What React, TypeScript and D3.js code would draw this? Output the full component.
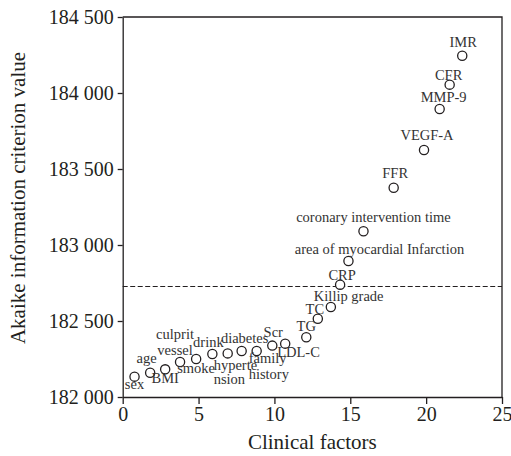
import { useEffect, useRef } from "react";
import * as d3 from "d3";

// clinical factors, in the order they enter the model
const factors = [
    "sex", "age", "BMI", "culprit vessel", "smoke", "drink", "hypertension", "diabetes",
    "family history", "Scr", "LDL-C", "TG", "TC", "Killip grade", "CRP",
    "area of myocardial Infarction", "coronary intervention time", "FFR", "VEGF-A",
    "MMP-9", "CFR", "IMR",
];
const xValues = [
    0.78, 1.81, 2.8, 3.78, 4.84, 5.91, 6.92, 7.84, 8.83, 9.86, 10.71, 12.1, 12.86,
    13.72, 14.33, 14.88, 15.87, 17.86, 19.86, 20.89, 21.55, 22.38,
];
const aicValues = [
    182134, 182160, 182182, 182230, 182250, 182283, 182287, 182303, 182303, 182338,
    182351, 182393, 182515, 182592, 182739, 182895, 183090, 183377, 183625, 183895,
    184055, 184245,
];
const xTicks = [0, 5, 10, 15, 20, 25];
const yTicks = [182000, 182500, 183000, 183500, 184000, 184500];
const threshold = 182727;

// label placement: text lines, offset from the point, anchor
const labelLayout: Record<string, { lines: string[]; dx: number; dy: number[]; anchor: string }> = {
    "sex": { lines: ["sex"], dx: 0, dy: [12.5], anchor: "middle" },
    "age": { lines: ["age"], dx: -3.5, dy: [-10], anchor: "middle" },
    "BMI": { lines: ["BMI"], dx: 0, dy: [14], anchor: "middle" },
    "culprit vessel": { lines: ["culprit", "vessel"], dx: -5, dy: [-23, -7], anchor: "middle" },
    "smoke": { lines: ["smoke"], dx: 0, dy: [14], anchor: "middle" },
    "drink": { lines: ["drink"], dx: -4, dy: [-7], anchor: "middle" },
    "hypertension": { lines: ["hyperte", "nsion"], dx: -14, dy: [17, 31], anchor: "start" },
    "diabetes": { lines: ["diabetes"], dx: 3, dy: [-8], anchor: "middle" },
    "family history": { lines: ["family", "history"], dx: -8, dy: [12, 28], anchor: "start" },
    "Scr": { lines: ["Scr"], dx: 1, dy: [-9], anchor: "middle" },
    "LDL-C": { lines: ["LDL-C"], dx: -8, dy: [13.6], anchor: "start" },
    "TG": { lines: ["TG"], dx: 0, dy: [-6], anchor: "middle" },
    "TC": { lines: ["TC"], dx: -3, dy: [-5], anchor: "middle" },
    "Killip grade": { lines: ["Killip grade"], dx: -17, dy: [-6], anchor: "start" },
    "CRP": { lines: ["CRP"], dx: 2, dy: [-5], anchor: "middle" },
    "area of myocardial Infarction": { lines: ["area of myocardial Infarction"], dx: 31, dy: [-7], anchor: "middle" },
    "coronary intervention time": { lines: ["coronary intervention time"], dx: 10, dy: [-9.6], anchor: "middle" },
    "FFR": { lines: ["FFR"], dx: 1.5, dy: [-9.4], anchor: "middle" },
    "VEGF-A": { lines: ["VEGF-A"], dx: 3, dy: [-10], anchor: "middle" },
    "MMP-9": { lines: ["MMP-9"], dx: 4, dy: [-7], anchor: "middle" },
    "CFR": { lines: ["CFR"], dx: -1, dy: [-5], anchor: "middle" },
    "IMR": { lines: ["IMR"], dx: 1, dy: [-9], anchor: "middle" },
};

const W = 511;
const H = 456;
const FONT = "Liberation Serif, DejaVu Serif, serif";
const INK = "#231f20";

export default function App() {
    const svgRef = useRef<SVGSVGElement>(null);

    useEffect(() => {
        if (!svgRef.current) return;
        const svg = d3.select(svgRef.current);
        svg.selectAll("*").remove();

        const left = 122.7, right = 502, top = 17, bottom = 397;
        const x = d3.scaleLinear().domain([0, 25]).range([left, right]);
        const y = d3.scaleLinear().domain([182000, 184500]).range([bottom, top]);

        const fmt = d3.formatLocale({ decimal: ".", thousands: " ", grouping: [3], currency: ["", ""] }).format(",");

        // frame top + right
        svg.append("path")
            .attr("d", `M${left},${top}H${right}V${bottom}`)
            .attr("fill", "none")
            .attr("stroke", INK)
            .attr("stroke-width", 1.3);

        const xAxis = svg.append("g")
            .attr("transform", `translate(0,${bottom})`)
            .call(d3.axisBottom(x).tickValues(xTicks).tickSize(7).tickSizeOuter(0).tickPadding(3));
        const yAxis = svg.append("g")
            .attr("transform", `translate(${left},0)`)
            .call(d3.axisLeft(y).tickValues(yTicks).tickSize(5).tickSizeOuter(0).tickFormat((d) => fmt(d as number)).tickPadding(4));

        [xAxis, yAxis].forEach((g) => {
            g.attr("font-family", FONT).attr("font-size", 20);
            g.select(".domain").attr("stroke", INK).attr("stroke-width", 1.3);
            g.selectAll(".tick line").attr("stroke", INK).attr("stroke-width", 1.3);
            g.selectAll(".tick text").attr("fill", INK);
        });

        // threshold line
        svg.append("line")
            .attr("x1", left).attr("x2", right)
            .attr("y1", y(threshold)).attr("y2", y(threshold))
            .attr("stroke", INK)
            .attr("stroke-width", 1.1)
            .attr("stroke-dasharray", "5,2.5");

        // points
        svg.append("g")
            .selectAll("circle")
            .data(factors)
            .enter()
            .append("circle")
            .attr("cx", (_, i) => x(xValues[i]))
            .attr("cy", (_, i) => y(aicValues[i]))
            .attr("r", 4.6)
            .attr("fill", "white")
            .attr("stroke", INK)
            .attr("stroke-width", 1.3);

        // labels
        const labels = svg.append("g")
            .attr("font-family", FONT)
            .attr("font-size", 14.5)
            .attr("fill", "#333");
        factors.forEach((f, i) => {
            const lay = labelLayout[f];
            const px = x(xValues[i]);
            const py = y(aicValues[i]);
            lay.lines.forEach((line, k) => {
                labels.append("text")
                    .attr("x", px + lay.dx)
                    .attr("y", py + lay.dy[k])
                    .attr("text-anchor", lay.anchor)
                    .text(line);
            });
        });

        // axis titles
        svg.append("text")
            .attr("x", (left + right) / 2)
            .attr("y", 449)
            .attr("text-anchor", "middle")
            .attr("fill", INK)
            .attr("font-family", FONT)
            .attr("font-size", 21)
            .text("Clinical factors");

        svg.append("text")
            .attr("transform", `translate(25,198) rotate(-90)`)
            .attr("text-anchor", "middle")
            .attr("fill", INK)
            .attr("font-family", FONT)
            .attr("font-size", 21)
            .text("Akaike information criterion value");
    }, []);

    return (
        <svg
            ref={svgRef}
            width={W}
            height={H}
            style={{ position: "absolute", left: 0, top: 0, background: "white" }}
        />
    );
}
